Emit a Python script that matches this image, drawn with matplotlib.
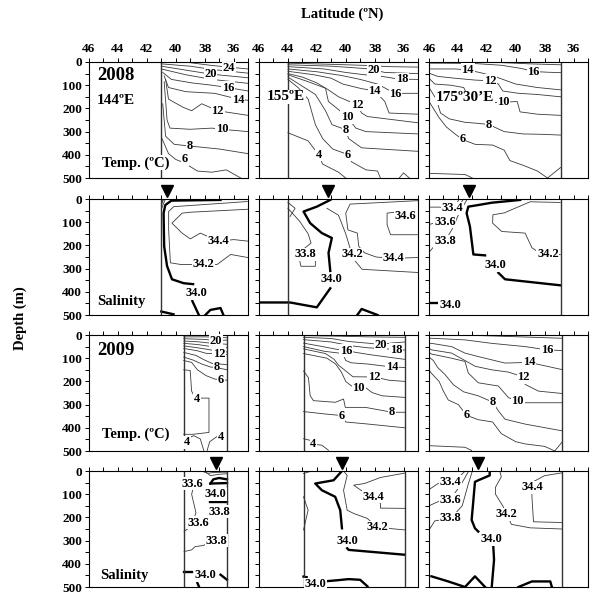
"""Temperature and salinity sections along 144E, 155E and 175.5E in 2008 and 2009."""

import matplotlib

matplotlib.use("Agg")

import matplotlib.pyplot as plt
from matplotlib.ticker import MultipleLocator
from matplotlib.transforms import blended_transform_factory

plt.rcParams["font.family"] = ["Liberation Serif", "DejaVu Serif"]
plt.rcParams["font.weight"] = "bold"

LAT_TICKS = [46, 44, 42, 40, 38, 36]
DEPTH_TICKS = [0, 100, 200, 300, 400, 500]

# isolines: (value, latitudes in N, depths in m)
T08_144 = [
    (24, [39.0, 37.5, 35.0], [3, 15, 30]),
    (22, [41.0, 39.0, 37.5, 35.0], [8, 18, 32, 48]),
    (20, [41.0, 39.3, 37.6, 35.0], [18, 35, 52, 68]),
    (18, [41.0, 39.3, 37.5, 35.0], [30, 55, 75, 92]),
    (16, [40.9, 40.3, 38.9, 37.5, 36.4, 35.0], [45, 75, 90, 100, 110, 125]),
    (14, [40.8, 40.5, 39.3, 37.3, 35.7, 35.0], [60, 110, 128, 135, 160, 165]),
    (12, [40.7, 40.5, 39.5, 38.9, 38.2, 37.1, 35.0], [75, 160, 195, 210, 180, 210, 230]),
    (10, [40.8, 40.6, 40.4, 39.0, 37.5, 36.8, 35.0], [85, 250, 285, 290, 285, 290, 300]),
    (8, [40.9, 40.7, 40.1, 39.05, 37.0, 35.0], [180, 320, 355, 362, 375, 395]),
    (6, [40.95, 40.5, 40.0, 39.4, 38.5, 37.5, 36.5, 35.5], [330, 395, 420, 435, 470, 475, 465, 500]),
]
T08_144_LABELS = [("24", 36.3, 28), ("20", 37.6, 52), ("16", 36.4, 110), ("14", 35.7, 162),
                  ("12", 37.1, 212), ("10", 36.8, 290), ("8", 39.05, 362), ("6", 39.35, 418)]
T08_144_EDGES = [41.0]

T08_155 = [
    (22, [44, 41, 38.5, 37, 35], [5, 10, 15, 20, 22]),
    (20, [44, 41, 38.7, 38.06, 37.3, 35], [12, 18, 28, 34, 45, 50]),
    (18, [44, 41.5, 40, 38.7, 37.5, 36.7, 36.1, 35], [20, 30, 45, 55, 62, 70, 74, 75]),
    (16, [44, 42, 40.3, 39.0, 37.8, 36.6, 35], [30, 42, 58, 75, 95, 135, 135]),
    (14, [44, 42.2, 41.0, 40.2, 38.9, 38.0, 37.3, 37.0, 35], [40, 55, 70, 95, 115, 124, 170, 220, 225]),
    (12, [44, 43.0, 42.0, 41.2, 40.5, 39.22, 38.9, 38.5, 35], [50, 65, 90, 120, 150, 184, 220, 235, 262]),
    (10, [44, 42.6, 41.4, 41.2, 40.6, 39.9, 39.3, 38.6, 35], [55, 85, 113, 170, 200, 237, 285, 300, 310]),
    (8, [44, 42.1, 41.4, 40.95, 40.03, 39.8, 38.9, 35], [65, 140, 210, 270, 291, 330, 370, 385]),
    (6, [44, 43.3, 42.6, 42.1, 41.6, 40.9, 39.85, 39.6, 38.6, 37.8, 37.6],
     [75, 110, 160, 270, 330, 375, 399, 430, 465, 470, 500]),
    (4, [44, 42.6, 41.88, 41.6, 40.5, 40.0], [305, 340, 399, 440, 475, 500]),
    (4, [36.3, 36.0, 35.6], [500, 478, 500]),
]
T08_155_LABELS = [("20", 38.06, 34), ("18", 36.1, 74), ("16", 36.56, 137), ("14", 37.99, 124),
                  ("12", 39.22, 184), ("10", 39.9, 237), ("8", 40.03, 291), ("6", 39.85, 399),
                  ("4", 41.88, 399)]
T08_155_EDGES = [44.0]

T08_175 = [
    (18, [42.0, 39.0, 36.9], [0, 8, 12]),
    (16, [46, 43, 41, 39.6, 38.76, 37.8, 36.9], [5, 6, 14, 28, 41, 44, 46]),
    (14, [46, 44.2, 43.32, 42.3, 41.2, 40.0, 38.5, 36.9], [30, 30, 34, 48, 68, 95, 110, 120]),
    (12, [46, 45.4, 44.2, 42.8, 41.77, 41.2, 40.9, 39.8, 38.5, 36.9],
     [48, 62, 70, 78, 81, 95, 125, 135, 140, 150]),
    (10, [46, 45.6, 44.5, 43.6, 43.2, 42.0, 40.84, 39.9, 39.7, 38.5, 36.9],
     [70, 95, 100, 110, 160, 175, 174, 170, 215, 225, 230]),
    (8, [46, 45.5, 45.2, 44.6, 43.5, 42.5, 41.84, 40.8, 39.5, 38.0, 36.9],
     [110, 160, 220, 245, 260, 265, 270, 300, 310, 312, 315]),
    (6, [46, 45.3, 44.8, 44.2, 43.69, 42.8, 41.6, 40.8, 40.4, 39.5, 38.5, 37.8],
     [170, 240, 280, 310, 334, 355, 358, 380, 425, 445, 470, 500]),
    (6, [37.8, 36.9], [500, 455]),
    (4, [46, 43.5, 43.0], [480, 485, 500]),
]
T08_175_LABELS = [("14", 43.32, 34), ("16", 38.76, 41), ("12", 41.77, 81), ("10", 40.84, 174),
                  ("8", 41.84, 270), ("6", 43.69, 334)]
T08_175_EDGES = [36.9]

S08_144 = [
    (34.0, [36.9, 40.3, 40.72, 40.84, 40.8, 40.6, 40.26, 39.45, 38.8], [4, 7, 26, 61, 204, 289, 346, 363, 367]),
    (34.0, [38.85, 38.4], [440, 500]),
    (34.0, [41.0, 40.15], [485, 497]),
    (34.0, [37.95, 37.6, 36.9, 36.7], [500, 478, 470, 500]),
    (34.2, [35.05, 40.14, 40.49, 40.49, 40.37, 39.68, 38.06, 37.13, 36.2, 34.95],
     [11, 33, 54, 132, 275, 282, 282, 282, 239, 253]),
    (34.4, [34.95, 38.99, 39.56, 40.26, 39.56, 38.99, 38.3, 37.02, 35.98, 34.95],
     [44, 57, 61, 104, 147, 172, 147, 182, 175, 182]),
    (33.8, [41.0, 40.75], [45, 5]),
    (33.6, [41.0, 40.85], [28, 3]),
    (33.4, [40.95, 40.9], [12, 2]),
]
S08_144_LABELS = [("34.4", 37.02, 182), ("34.2", 38.06, 282), ("34.0", 38.57, 406)]
S08_144_EDGES = [41.0]
S08_144_MARK = 40.6

S08_155 = [
    (34.0, [41.07, 42.0, 42.92, 42.46, 41.65, 40.96, 41.19, 41.07], [4, 33, 54, 104, 147, 168, 232, 310]),
    (34.0, [41.07, 42.0, 43.85, 46.0], [385, 467, 446, 446]),
    (34.0, [39.2, 38.9, 37.8], [500, 474, 500]),
    (34.2, [41.3, 40.5, 40.0, 39.57, 39.34, 38.87, 34.95], [40, 70, 150, 239, 268, 303, 317]),
    (34.4, [34.95, 39.7, 40.0, 39.85, 39.2, 39.1, 38.7, 37.9, 36.72, 34.95],
     [7, 22, 61, 133, 147, 204, 232, 250, 256, 252]),
    (34.6, [35.3, 36.21, 37.14, 37.14, 36.9, 34.95], [56, 54, 61, 111, 154, 154]),
    (33.8, [44.0, 43.2, 42.6, 42.4, 42.9], [40, 95, 150, 190, 215]),
    (33.8, [43.2, 43.1, 42.1, 42.1], [262, 290, 290, 268]),
    (33.6, [44.0, 43.5, 43.85], [15, 40, 75]),
]
S08_155_LABELS = [("34.6", 35.86, 73), ("33.8", 42.81, 239), ("34.2", 39.57, 239),
                  ("34.4", 36.72, 256), ("34.0", 40.96, 346)]
S08_155_EDGES = [44.0]
S08_155_MARK = 41.2

S08_175 = [
    (34.0, [39.69, 41.66, 42.59, 43.28, 43.4, 43.17, 42.93, 42.12], [4, 16, 26, 33, 61, 118, 239, 243]),
    (34.0, [41.2, 40.74, 36.92], [318, 346, 372]),
    (34.0, [46.0, 45.4], [448, 448]),
    (34.2, [36.92, 39.0, 40.8, 41.58, 41.6, 40.97, 39.35, 38.88, 38.2, 36.92],
     [15, 12, 60, 68, 104, 140, 147, 210, 239, 239]),
    (33.4, [46.0, 45.3, 44.37, 44.1, 43.9], [35, 35, 40, 20, 0]),
    (33.6, [46.0, 45.4, 44.9, 44.2, 43.6], [110, 100, 97, 50, 0]),
    (33.8, [46.0, 45.6, 44.9, 44.4, 43.9, 43.4], [230, 200, 182, 130, 60, 5]),
]
S08_175_LABELS = [("33.4", 44.37, 40), ("33.6", 44.9, 97), ("33.8", 44.9, 182),
                  ("34.0", 41.43, 286), ("34.2", 37.77, 239), ("34.0", 44.55, 457)]
S08_175_EDGES = [36.9]
S08_175_MARK = 43.2

T09_144 = [
    (22, [39.45, 38.0, 36.45], [8, 8, 12]),
    (20, [39.45, 38.0, 37.25, 36.45], [16, 19, 24, 22]),
    (18, [39.45, 38.5, 37.6, 36.45], [26, 29, 35, 40]),
    (16, [39.45, 38.5, 37.5, 36.45], [36, 41, 50, 55]),
    (14, [39.45, 38.6, 37.6, 37.2, 36.45], [47, 54, 64, 70, 73]),
    (12, [39.45, 38.5, 37.9, 37.0, 36.45], [58, 68, 79, 81, 85]),
    (10, [39.45, 38.6, 38.0, 37.5, 36.45], [75, 88, 108, 122, 128]),
    (8, [39.45, 38.8, 38.2, 37.6, 37.2, 36.45], [95, 108, 125, 138, 140, 150]),
    (6, [39.45, 38.9, 38.5, 37.9, 37.3, 36.85, 36.45], [110, 118, 150, 175, 190, 192, 195]),
    (4, [39.45, 39.0, 38.9, 38.6], [150, 153, 242, 278]),
    (4, [38.4, 37.7, 37.7, 38.8, 39.45], [272, 272, 420, 428, 428]),
    (4, [39.3, 38.75, 38.3, 38.06], [448, 434, 448, 498]),
    (4, [37.83, 37.65, 37.13], [498, 460, 437]),
]
T09_144_LABELS = [("20", 37.2, 24), ("12", 37.02, 81), ("8", 37.18, 138), ("6", 36.86, 192),
                  ("4", 38.52, 275), ("4", 39.22, 462), ("4", 36.86, 441)]
T09_144_EDGES = [39.45, 36.45]

T09_155 = [
    (22, [42.92, 40.5, 38.5, 35.91], [3, 5, 8, 10]),
    (20, [42.92, 41.0, 39.8, 38.5, 37.6, 36.9, 35.91], [10, 15, 28, 35, 41, 35, 30]),
    (18, [42.92, 41.0, 39.8, 38.5, 37.2, 36.51, 35.91], [20, 30, 45, 55, 60, 63, 65]),
    (16, [42.92, 41.6, 40.6, 39.96, 39.3, 38.3, 35.91], [35, 50, 62, 67, 75, 85, 105]),
    (14, [42.92, 41.5, 40.2, 40.0, 39.6, 38.5, 36.79, 35.91], [50, 70, 80, 110, 120, 125, 138, 140]),
    (12, [42.92, 41.4, 40.8, 40.5, 40.0, 39.5, 38.02, 37.0, 35.91], [60, 80, 105, 130, 155, 180, 181, 195, 200]),
    (10, [42.92, 41.3, 40.7, 40.3, 40.0, 39.6, 39.1, 38.64, 38.18, 37.49, 35.91],
     [80, 100, 125, 160, 200, 220, 229, 226, 248, 262, 269]),
    (8, [42.92, 42.58, 42.46, 42.23, 40.72, 40.15, 40.03, 38.64, 36.79, 35.91],
     [155, 184, 262, 283, 290, 276, 312, 312, 333, 333]),
    (6, [42.92, 41.5, 40.31, 40.0, 38.6, 35.91], [330, 340, 347, 375, 383, 400]),
    (4, [42.92, 42.46, 42.23, 41.65, 41.19], [447, 454, 471, 475, 497]),
]
T09_155_LABELS = [("16", 39.96, 67), ("20", 37.6, 41), ("18", 36.51, 63), ("14", 36.79, 138),
                  ("12", 38.02, 181), ("10", 39.1, 229), ("8", 36.79, 333), ("6", 40.31, 347),
                  ("4", 42.23, 471)]
T09_155_EDGES = [42.92, 35.91]

T09_175 = [
    (18, [44.0, 41.66, 36.8], [0, 4, 14]),
    (16, [46, 45.83, 43.51, 41.66, 39.35, 37.84, 36.8], [14, 14, 21, 36, 50, 64, 67]),
    (14, [46, 45.83, 44.44, 43.51, 42.59, 40.74, 39.07, 36.8], [36, 36, 50, 78, 93, 121, 118, 149]),
    (12, [46, 45.83, 44.44, 43.51, 42.8, 41.66, 40.5, 39.46, 39.35, 38.42, 36.8],
     [57, 64, 78, 110, 135, 150, 160, 181, 213, 242, 252]),
    (10, [46, 45.83, 44.44, 43.51, 43.28, 42.59, 41.2, 40.5, 39.86, 39.35, 36.8],
     [75, 82, 100, 114, 164, 206, 220, 270, 285, 292, 292]),
    (8, [46, 45.7, 45.4, 44.9, 44.3, 43.6, 42.6, 41.6, 41.2, 40.74, 39.35, 36.8],
     [95, 110, 140, 170, 215, 245, 262, 289, 327, 363, 384, 413]),
    (6, [46, 45.83, 45.3, 45.02, 44.67, 43.97, 43.4, 42.6, 41.6, 41.0, 40.0, 39.3, 38.0, 37.3],
     [150, 165, 200, 240, 280, 300, 346, 365, 375, 425, 460, 470, 480, 500]),
    (6, [37.3, 36.8], [500, 462]),
    (4, [46, 43.5, 43.05], [477, 484, 498]),
]
T09_175_LABELS = [("16", 37.84, 64), ("14", 39.07, 118), ("12", 39.46, 181), ("10", 39.86, 285),
                  ("8", 41.6, 289), ("6", 43.4, 346)]
T09_175_EDGES = [36.8]

S09_144 = [
    (34.0, [37.6, 37.4, 37.0, 36.45], [54, 36, 30, 36]),
    (34.0, [37.6, 36.45], [54, 52]),
    (33.4, [38.0, 37.6, 37.0, 36.45], [0, 20, 14, 12]),
    (33.2, [38.2, 37.8, 37.3, 36.45], [0, 10, 6, 5]),
    (34.0, [37.6, 36.45], [133, 133]),
    (33.6, [38.6, 38.9, 38.6, 38.95, 39.42], [30, 100, 180, 240, 260]),
    (33.8, [39.42, 38.9, 38.66, 38.08, 37.5, 36.45], [347, 340, 326, 321, 300, 290]),
    (33.8, [36.45, 36.9, 37.0], [150, 160, 170]),
    (34.0, [39.4, 38.9], [437, 437]),
    (34.0, [36.9, 36.45], [447, 469]),
    (34.0, [38.5, 38.4], [483, 497]),
]
S09_144_LABELS = [("33.6", 38.82, 54), ("34.0", 37.27, 100), ("33.8", 36.97, 176),
                  ("33.6", 38.43, 223), ("33.8", 37.2, 300), ("34.0", 37.97, 450)]
S09_144_EDGES = [39.42, 36.42]
S09_144_MARK = 37.23

S09_155 = [
    (34.0, [40.26, 40.84, 42.11, 41.65, 40.73, 40.38, 40.26], [0, 40, 54, 83, 111, 169, 247]),
    (34.0, [39.9, 39.8, 35.91], [333, 340, 361]),
    (34.0, [41.5, 40.6, 39.8, 39.0, 38.5], [476, 471, 466, 469, 497]),
    (34.0, [42.92, 42.7], [455, 458]),
    (34.2, [40.15, 39.9, 40.15, 39.9, 39.45, 38.52, 37.79, 35.91], [0, 19, 83, 169, 183, 204, 243, 254]),
    (34.4, [35.91, 37.6, 38.7, 39.45, 38.9, 38.06, 37.6, 37.6, 35.91], [9, 28, 54, 61, 85, 111, 140, 160, 161]),
    (33.8, [42.92, 42.35], [11, 0]),
    (33.8, [42.92, 42.6, 42.92], [111, 169, 254]),
]
S09_155_LABELS = [("34.4", 38.06, 111), ("34.2", 37.79, 243), ("34.0", 39.9, 300), ("34.0", 42.11, 488)]
S09_155_EDGES = [42.92, 35.91]
S09_155_MARK = 40.26

S09_175 = [
    (34.0, [41.8, 41.8, 42.59, 42.82, 42.93, 43.05, 42.82, 42.59], [0, 19, 40, 47, 126, 211, 247, 261]),
    (34.0, [41.55, 41.5, 41.66], [326, 383, 500]),
    (34.0, [45.83, 44.67, 43.51, 42.82, 42.12], [454, 476, 500, 454, 500]),
    (34.0, [39.81, 38.88, 37.61, 37.5], [500, 476, 476, 500]),
    (34.2, [41.1, 41.0, 41.4, 41.4, 40.9, 40.62, 40.3, 39.0, 36.8], [0, 25, 70, 100, 150, 186, 230, 245, 250]),
    (34.4, [36.8, 38.0, 38.9], [8, 20, 50]),
    (34.4, [38.88, 38.88, 38.77, 36.8], [90, 111, 219, 222]),
    (33.4, [46.0, 45.4, 44.49, 43.9, 43.5], [80, 55, 47, 25, 0]),
    (33.6, [46.0, 45.3, 44.55, 43.8, 43.25], [150, 130, 123, 60, 0]),
    (33.8, [46.0, 45.6, 44.49, 43.7, 43.3, 43.0], [255, 215, 204, 150, 60, 0]),
]
S09_175_LABELS = [("33.4", 44.49, 47), ("33.6", 44.55, 123), ("33.8", 44.49, 204),
                  ("34.2", 40.62, 186), ("34.4", 38.88, 71), ("34.0", 41.66, 294)]
S09_175_EDGES = [36.8]
S09_175_MARK = 42.59

FIG_W, FIG_H = 593, 594
COL_LEFT = [89, 259, 429]
ROW_TOP = [62, 199, 335, 471]
PANEL_W, PANEL_H = 159, 116
LABEL_FONT = 9


def make_axes(fig, row, col):
    rect = [
        COL_LEFT[col] / FIG_W,
        1 - (ROW_TOP[row] + PANEL_H) / FIG_H,
        PANEL_W / FIG_W,
        PANEL_H / FIG_H,
    ]
    ax = fig.add_axes(rect)
    ax.set_xlim(46, 35)
    ax.set_ylim(500, 0)
    ax.set_xticks(LAT_TICKS)
    ax.set_yticks(DEPTH_TICKS)
    ax.xaxis.set_minor_locator(MultipleLocator(1))
    ax.yaxis.set_minor_locator(MultipleLocator(50))
    ax.tick_params(which="both", direction="out", length=3, width=0.7,
                   top=True, bottom=False, left=True, right=False,
                   labeltop=(row == 0), labelbottom=False, labelleft=(col == 0),
                   labelsize=9.5, pad=2)
    for label in ax.get_xticklabels() + ax.get_yticklabels():
        label.set_fontweight("bold")
    for spine in ax.spines.values():
        spine.set_linewidth(0.8)
    return ax


def draw_panel(ax, lines, labels, edges, salinity=False, mark=None):
    for level, lats, deps in lines:
        thick = salinity and level == 34.0
        ax.plot(lats, deps, color="black" if thick else "#3a3a3a",
                lw=1.7 if thick else 0.6)
    for lat in edges:
        ax.axvline(lat, color="#333333", lw=1.0)
    for text, lat, dep in labels:
        ax.text(lat, dep, text, ha="center", va="center", fontsize=LABEL_FONT,
                fontweight="bold",
                bbox=dict(boxstyle="square,pad=0.05", fc="white", ec="none"))
    if mark is not None:
        trans = blended_transform_factory(ax.transData, ax.transAxes)
        ax.plot([mark], [1.065], marker="v", color="black", markersize=8,
                transform=trans, clip_on=False)


def panel_text(ax, x, y, text, size):
    ax.text(x, y, text, transform=ax.transAxes, ha="left", va="center",
            fontsize=size, fontweight="bold",
            bbox=dict(boxstyle="square,pad=0.05", fc="white", ec="none"))


def main():
    fig = plt.figure(figsize=(FIG_W / 100, FIG_H / 100), dpi=100)

    panels = [
        [(T08_144, T08_144_LABELS, T08_144_EDGES, False, None),
         (T08_155, T08_155_LABELS, T08_155_EDGES, False, None),
         (T08_175, T08_175_LABELS, T08_175_EDGES, False, None)],
        [(S08_144, S08_144_LABELS, S08_144_EDGES, True, S08_144_MARK),
         (S08_155, S08_155_LABELS, S08_155_EDGES, True, S08_155_MARK),
         (S08_175, S08_175_LABELS, S08_175_EDGES, True, S08_175_MARK)],
        [(T09_144, T09_144_LABELS, T09_144_EDGES, False, None),
         (T09_155, T09_155_LABELS, T09_155_EDGES, False, None),
         (T09_175, T09_175_LABELS, T09_175_EDGES, False, None)],
        [(S09_144, S09_144_LABELS, S09_144_EDGES, True, S09_144_MARK),
         (S09_155, S09_155_LABELS, S09_155_EDGES, True, S09_155_MARK),
         (S09_175, S09_175_LABELS, S09_175_EDGES, True, S09_175_MARK)],
    ]

    axes = {}
    for row, row_panels in enumerate(panels):
        for col, (lines, labels, edges, salinity, mark) in enumerate(row_panels):
            ax = make_axes(fig, row, col)
            draw_panel(ax, lines, labels, edges, salinity, mark)
            axes[row, col] = ax

    panel_text(axes[0, 0], 0.055, 0.88, "2008", 13.5)
    panel_text(axes[0, 0], 0.05, 0.67, "144ºE", 11)
    panel_text(axes[0, 0], 0.08, 0.13, "Temp. (ºC)", 10.5)
    panel_text(axes[0, 1], 0.05, 0.70, "155ºE", 11)
    panel_text(axes[0, 2], 0.045, 0.69, "175º30’E", 11)
    panel_text(axes[1, 0], 0.05, 0.12, "Salinity", 10.5)
    panel_text(axes[2, 0], 0.05, 0.87, "2009", 13.5)
    panel_text(axes[2, 0], 0.08, 0.145, "Temp. (ºC)", 10.5)
    panel_text(axes[3, 0], 0.07, 0.10, "Salinity", 10.5)

    fig.text(342 / FIG_W, 1 - 14 / FIG_H, "Latitude (ºN)", ha="center", va="center",
             fontsize=10.5, fontweight="bold")
    fig.text(20 / FIG_W, 1 - 318 / FIG_H, "Depth (m)", ha="center", va="center",
             rotation=90, fontsize=10.5, fontweight="bold")

    fig.savefig("out.png", dpi=100)
    plt.close(fig)


if __name__ == "__main__":
    main()
